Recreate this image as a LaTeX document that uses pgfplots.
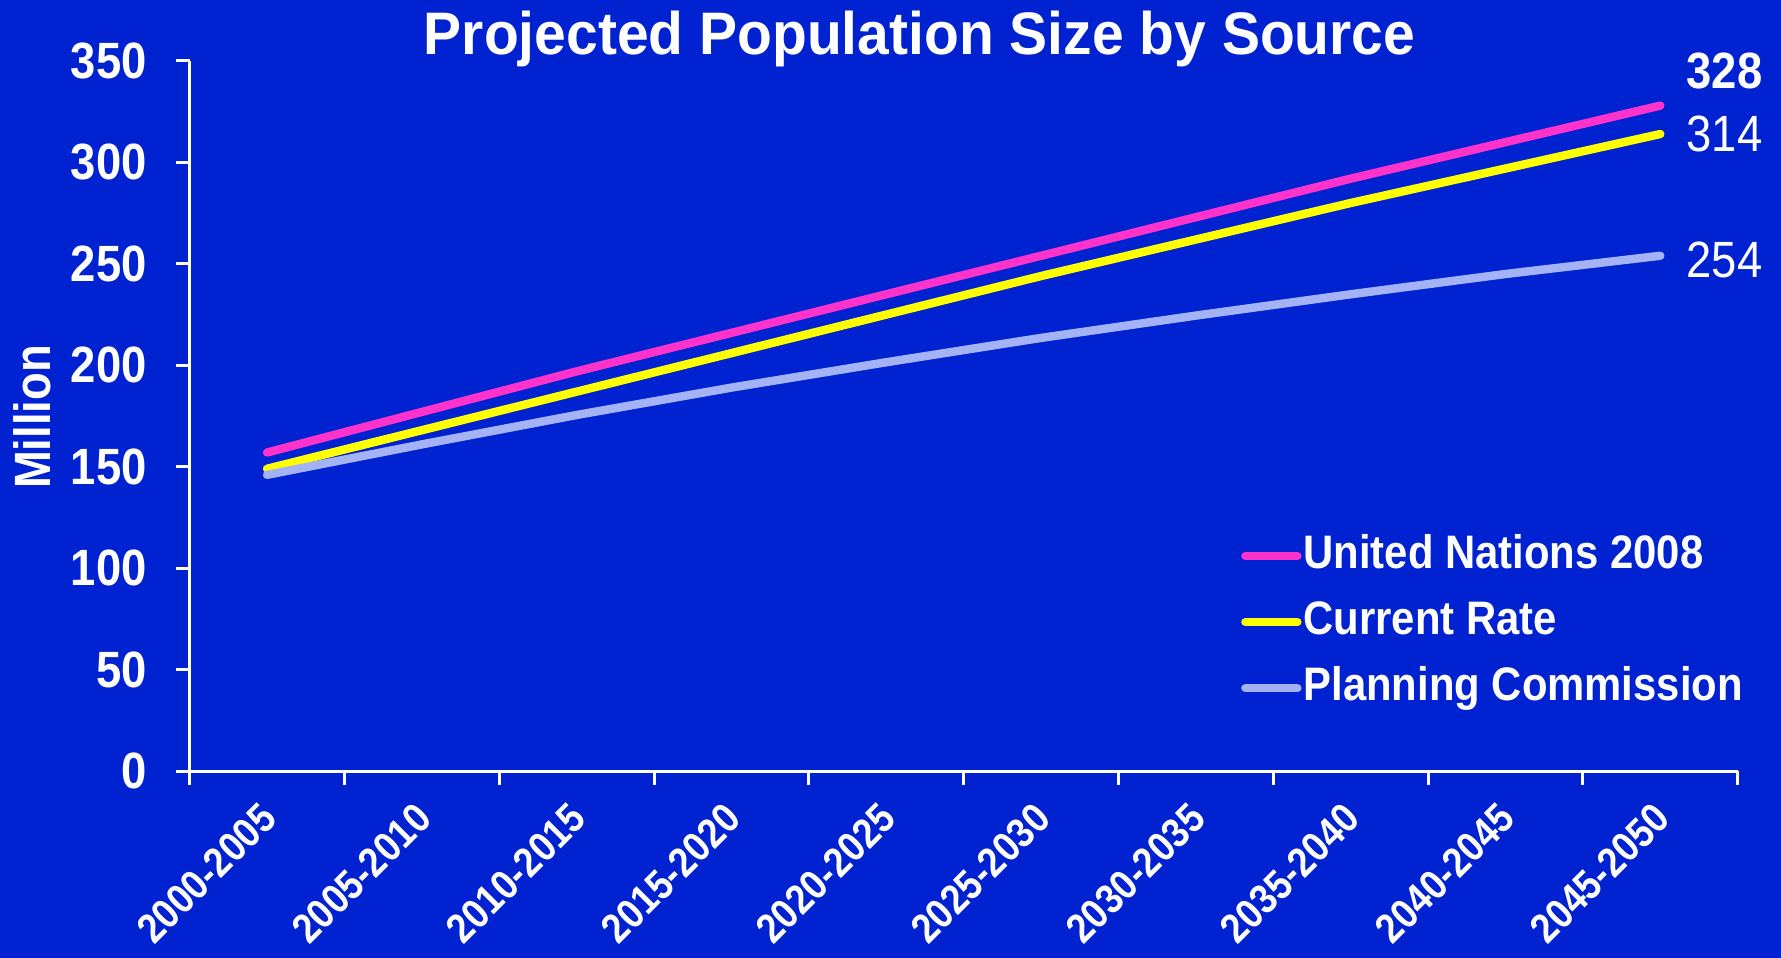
\documentclass[border=0pt]{standalone}
\usepackage{fontspec}
\setmainfont{Liberation Sans}
\newfontfamily\condfont{Liberation Sans}[FakeStretch=0.89]
\newfontfamily\titlefont{Liberation Sans}[FakeStretch=0.95]
\usepackage{pgfplots}
\pgfplotsset{compat=1.18}
\definecolor{bgblue}{RGB}{0,34,208}
\definecolor{unpink}{RGB}{255,51,204}
\definecolor{cryellow}{RGB}{255,255,0}
\definecolor{pclav}{RGB}{163,179,245}
\begin{document}
\begin{tikzpicture}
\fill[bgblue] (0,0) rectangle (890.5bp,479bp);
\begin{axis}[
  at={(94.85bp,93.5bp)}, anchor=south west,
  scale only axis, width=774bp, height=355bp,
  xmin=-0.5, xmax=9.5, ymin=0, ymax=350,
  clip=false,
  axis x line*=bottom, axis y line*=left,
  axis line style={white, line width=1.5bp},
  /pgf/number format/assume math mode=true,
  ytick={0,50,...,350},
  xtick={0,...,9},
  xticklabels={2000-2005,2005-2010,2010-2015,2015-2020,2020-2025,2025-2030,2030-2035,2035-2040,2040-2045,2045-2050},
  minor xtick={-0.5,0.5,...,9.5},
  tick align=outside,
  major tick length=7bp, minor tick length=7bp,
  tick style={white, line width=1.5bp},
  major x tick style={draw=none},
  yticklabel style={text=white, anchor=east, inner sep=0pt, xshift=-14.3bp, font=\condfont\bfseries\fontsize{25.5bp}{25.5bp}\selectfont},
  xticklabel style={yshift=-13bp, xshift=1bp, rotate=45, anchor=east, inner sep=0pt, text=white, font=\condfont\bfseries\fontsize{20.7bp}{20.7bp}\selectfont},
  every axis title shift=0pt,
  title={Projected Population Size by Source},
  title style={at={(axis description cs:0.4715,1.0085)}, anchor=base, text=white, font=\titlefont\bfseries\fontsize{30bp}{30bp}\selectfont},
  ylabel={Million},
  ylabel style={at={(axis description cs:-0.102,0.4986)}, anchor=center, text=white, font=\condfont\bfseries\fontsize{25.5bp}{25.5bp}\selectfont},
  legend style={at={(axis description cs:0.679,0.337)}, anchor=north west, draw=none, fill=none, text=white,
    font=\condfont\bfseries\fontsize{23.5bp}{23.5bp}\selectfont, row sep=9bp, inner sep=0pt,
    nodes={text height=17bp, text depth=5bp, inner sep=1bp}},
  legend cell align=left,
  legend image code/.code={\draw[#1] (0bp,0bp) -- (26bp,0bp);},
]
\addplot[unpink, line width=4.2bp, line cap=round] coordinates {(0,157) (1,177) (2,197) (3,216) (4,235) (5,254) (6,273) (7,292) (8,310) (9,328)};
\addlegendentry{United Nations 2008}
\addplot[cryellow, line width=4.2bp, line cap=round] coordinates {(0,149) (1,168) (2,187) (3,206) (4,225) (5,244) (6,262) (7,280) (8,297) (9,314)};
\addlegendentry{Current Rate}
\addplot[pclav, line width=4.2bp, line cap=round] coordinates {(0,146) (1,161) (2,175.5) (3,189) (4,201.5) (5,213.5) (6,224.5) (7,235) (8,245) (9,254)};
\addlegendentry{Planning Commission}
\node[anchor=west, inner sep=0pt, xshift=13bp, text=white, font=\condfont\bfseries\fontsize{25.5bp}{25.5bp}\selectfont] at (axis cs:9,345) {328};
\node[anchor=west, inner sep=0pt, xshift=13bp, text=white, font=\condfont\fontsize{25.5bp}{25.5bp}\selectfont] at (axis cs:9,314) {314};
\node[anchor=west, inner sep=0pt, xshift=13bp, text=white, font=\condfont\fontsize{25.5bp}{25.5bp}\selectfont] at (axis cs:9,252) {254};
\end{axis}
\pgfresetboundingbox
\useasboundingbox (0,0) rectangle (890.5bp,479bp);
\end{tikzpicture}
\end{document}
